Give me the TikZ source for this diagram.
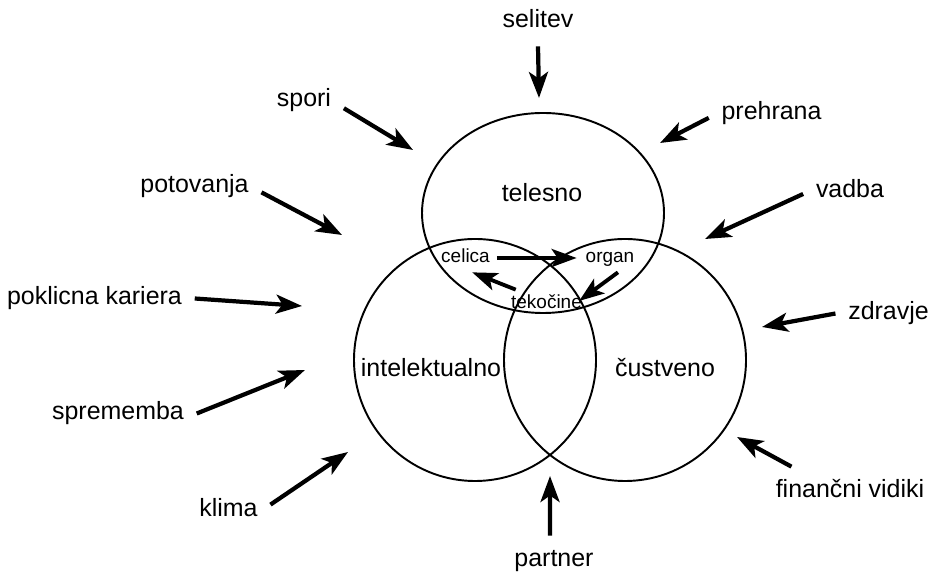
\documentclass[tikz,border=0pt]{standalone}
\usepackage{fontspec}
\setmainfont{Liberation Sans}
\usetikzlibrary{arrows.meta}

\begin{document}
\begin{tikzpicture}[
    lab/.style={font=\fontsize{14.2}{17}\selectfont, inner sep=0.25cm, text height=0.37cm, text depth=0.11cm},
    small/.style={font=\fontsize{10.8}{13}\selectfont, inner xsep=1pt, inner ysep=0.1cm, text height=0.28cm, text depth=0.08cm},
    ring/.style={line width=1.1pt},
    arr/.style={line width=2.4pt, -{Stealth[length=0.52cm, width=0.38cm, inset=0.13cm]}},
    sarr/.style={line width=2.2pt, -{Stealth[length=0.5cm, width=0.36cm, inset=0.12cm]}}
  ]
    \useasboundingbox (0, 0) rectangle (18.6, 11.44);

    % three areas
    \draw[ring] (10.86, 7.18) ellipse [x radius=2.42, y radius=2.0];
    \draw[ring] (9.5, 4.24) circle [radius=2.42];
    \draw[ring] (12.5, 4.24) circle [radius=2.42];

    \node[lab] (tel) at (10.84, 7.53) {telesno};
    \node[lab] (int) at (8.62, 4.03) {intelektualno};
    \node[lab] (cus) at (13.3, 4.03) {čustveno};

    % inner cycle
    \node[small] (cel) at (9.31, 6.28) {celica};
    \node[small] (org) at (12.2, 6.28) {organ};
    \node[small] (tek) at (10.93, 5.36) {tekočine};

    \draw[sarr, shorten <=0.1cm, shorten >=0.14cm] (cel.east) -- (org.west);
    \draw[sarr, shorten >=-0.12cm] (org.-61) -- (tek.10);
    \draw[sarr] (tek.155) -- (cel.-65);

    % outer influences
    \foreach \name/\x/\y/\lab/\ang/\tx/\ty in {
      sel/10.76/11.01/selitev/-90/10.78/9.48,
      spo/6.08/9.43/spori/-11/8.26/8.44,
      pot/3.89/7.71/potovanja/-5/6.84/6.74,
      pok/1.89/5.47/poklicna kariera/0/6.04/5.32,
      spr/2.36/3.17/sprememba/0/6.1/4.04,
      kli/4.57/1.23/klima/8/6.96/2.4,
      par/11.08/0.23/partner/99/11.0/1.92,
      fin/17.0/1.61/finančni vidiki/157/14.74/2.7,
      zdr/17.77/5.17/zdravje/180/15.24/4.9,
      vad/17.0/7.61/vadba/183/14.1/6.66,
      pre/15.43/9.17/prehrana/184/13.2/8.58}
    {
      \node[lab] (\name) at (\x, \y) {\lab};
      \coordinate (\name-in) at (\tx, \ty);
      \draw[arr] (\name.\ang) -- (\name-in);
    }

\end{tikzpicture}
\end{document}
